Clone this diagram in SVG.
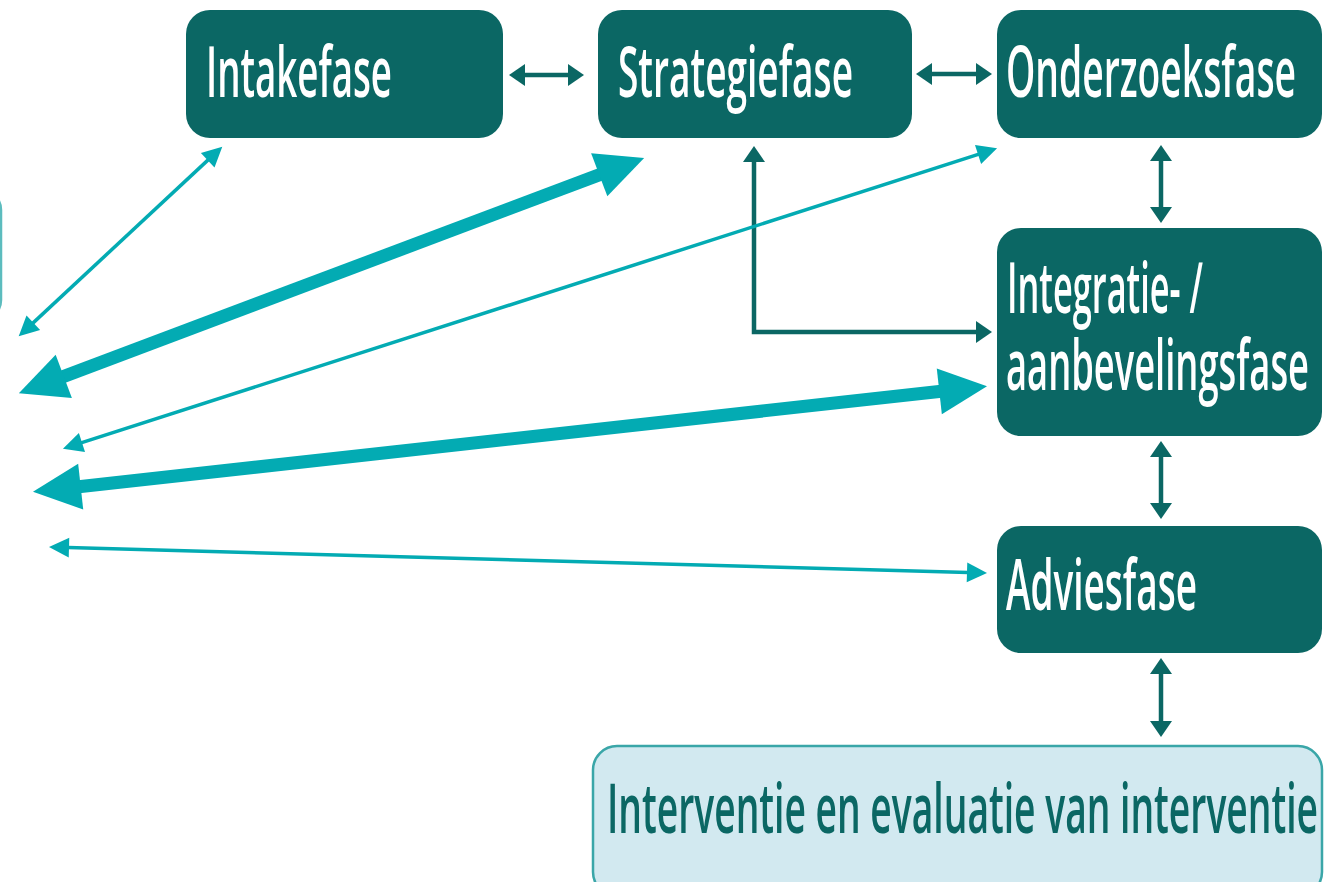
<svg xmlns="http://www.w3.org/2000/svg" width="1324" height="882" viewBox="0 0 1324 882">
  <style>
    .node { fill: #0b6764; }
    .lbl { font-family: "Open Sans", "Noto Sans", sans-serif; font-size: 70px; font-weight: 600; fill: #ffffff; }
    .lbl2 { font-family: "Open Sans", "Noto Sans", sans-serif; font-size: 68px; font-weight: 600; fill: #0b6764; }
    .dark { stroke: #0b6764; stroke-width: 4.5; fill: none; marker-start: url(#hDark); marker-end: url(#hDark); }
    .thin { stroke: #03abb3; stroke-width: 3.5; fill: none; marker-start: url(#hThin); marker-end: url(#hThin); }
    .thick { stroke: #03abb3; stroke-width: 13; fill: none; marker-start: url(#hThick); marker-end: url(#hThick); }
  </style>
  <defs>
    <marker id="hDark" markerUnits="userSpaceOnUse" orient="auto-start-reverse" markerWidth="16" markerHeight="22" refX="1" refY="11" overflow="visible">
      <path d="M0,0 L16,11 L0,22 z" fill="#0b6764"/>
    </marker>
    <marker id="hThin" markerUnits="userSpaceOnUse" orient="auto-start-reverse" markerWidth="20" markerHeight="20" refX="1" refY="10" overflow="visible">
      <path d="M0,0 L20,10 L0,20 z" fill="#03abb3"/>
    </marker>
    <marker id="hThick" markerUnits="userSpaceOnUse" orient="auto-start-reverse" markerWidth="48" markerHeight="46" refX="2" refY="23" overflow="visible">
      <path d="M0,0 L48,23 L0,46 z" fill="#03abb3"/>
    </marker>
  </defs>

  <rect width="1324" height="882" fill="#ffffff"/>

  <g id="partial-node">
    <rect x="-100" y="190" width="101" height="130" rx="20" fill="#ffffff" stroke="#5cbcbe" stroke-width="2.5"/>
  </g>

  <g id="connectors">
    <line class="dark" x1="524" y1="75" x2="569" y2="75"/>
    <line class="dark" x1="931" y1="74" x2="977" y2="74"/>
    <line class="dark" x1="1161" y1="160" x2="1161" y2="208"/>
    <line class="dark" x1="1161" y1="456" x2="1161" y2="504"/>
    <line class="dark" x1="1161" y1="673" x2="1161" y2="722"/>
    <path class="dark" d="M754,161 L754,332 L977,332"/>

    <line class="thin" x1="32.6" y1="323.4" x2="208.4" y2="159.6"/>
    <line class="thick" x1="61.9" y1="377.1" x2="601.1" y2="174.1"/>
    <line class="thin" x1="81" y1="442.9" x2="979" y2="154.1"/>
    <line class="thick" x1="78.7" y1="486.8" x2="941.3" y2="391.2"/>
    <line class="thin" x1="68" y1="547.6" x2="968" y2="572.4"/>
  </g>

  <g id="intakefase">
    <rect class="node" x="186" y="10" width="317" height="128" rx="24"/>
    <g transform="translate(206,97) scale(0.5,1)">
      <text class="lbl" x="0" y="0" textLength="372" lengthAdjust="spacingAndGlyphs">Intakefase</text>
    </g>
  </g>
  <g id="strategiefase">
    <rect class="node" x="598" y="10" width="314" height="128" rx="24"/>
    <g transform="translate(618,97) scale(0.5,1)">
      <text class="lbl" x="0" y="0" textLength="470" lengthAdjust="spacingAndGlyphs">Strategiefase</text>
    </g>
  </g>
  <g id="onderzoeksfase">
    <rect class="node" x="997" y="10" width="325" height="128" rx="24"/>
    <g transform="translate(1006,97) scale(0.5,1)">
      <text class="lbl" x="0" y="0" textLength="580" lengthAdjust="spacingAndGlyphs">Onderzoeksfase</text>
    </g>
  </g>
  <g id="integratiefase">
    <rect class="node" x="997" y="228" width="325" height="208" rx="24"/>
    <g transform="translate(1007,313) scale(0.5,1)">
      <text class="lbl" x="0" y="0" textLength="392" lengthAdjust="spacingAndGlyphs">Integratie- /</text>
    </g>
    <g transform="translate(1006,390) scale(0.5,1)">
      <text class="lbl" x="0" y="0" textLength="606" lengthAdjust="spacingAndGlyphs">aanbevelingsfase</text>
    </g>
  </g>
  <g id="adviesfase">
    <rect class="node" x="997" y="526" width="325" height="127" rx="24"/>
    <g transform="translate(1006,610) scale(0.5,1)">
      <text class="lbl" x="0" y="0" textLength="382" lengthAdjust="spacingAndGlyphs">Adviesfase</text>
    </g>
  </g>
  <g id="interventie">
    <rect x="593" y="746" width="729" height="150" rx="24" fill="#d2e9f0" stroke="#3aa6a8" stroke-width="2.5"/>
    <g transform="translate(607,833) scale(0.5,1)">
      <text class="lbl2" x="0" y="0" textLength="1422" lengthAdjust="spacingAndGlyphs">Interventie en evaluatie van interventie</text>
    </g>
  </g>
</svg>
